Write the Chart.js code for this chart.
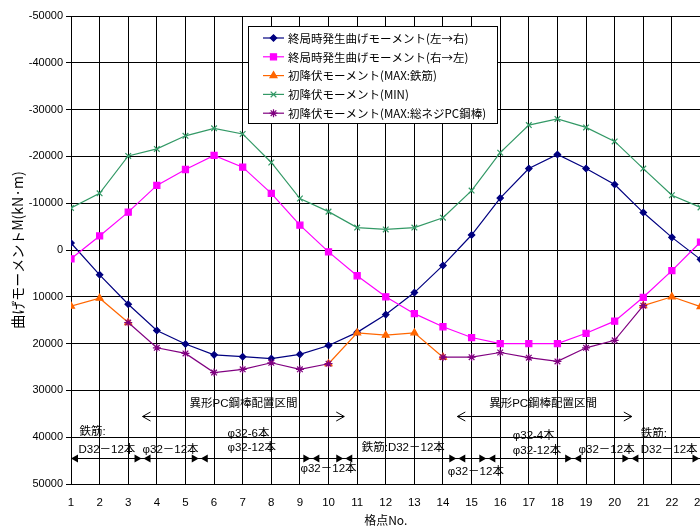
<!DOCTYPE html>
<html>
<head>
<meta charset="utf-8">
<script src="https://cdn.jsdelivr.net/npm/chart.js@4"></script>
<style>
  html, body { margin: 0; background: #fff; }
  #frame { width: 700px; height: 530px; overflow: hidden; position: relative; }
  #momentChart { position: absolute; left: 0; top: 0; }
</style>
</head>
<body>
<!-- canvas a few px wider than the frame: the last x label (23) gets cut at the edge like the original -->
<div id="frame"><canvas id="momentChart" width="706" height="530"></canvas></div>
<script>
const nodes = [1, 2, 3, 4, 5, 6, 7, 8, 9, 10, 11, 12, 13, 14, 15, 16, 17, 18, 19, 20, 21, 22, 23];
const yTicks = [-50000, -40000, -30000, -20000, -10000, 0, 10000, 20000, 30000, 40000, 50000];

const seriesNames = [
  '終局時発生曲げモーメント(左→右)',
  '終局時発生曲げモーメント(右→左)',
  '初降伏モーメント(MAX:鉄筋)',
  '初降伏モーメント(MIN)',
  '初降伏モーメント(MAX:総ネジPC鋼棒)'
];

const ultLeftRight = [-1500, 5300, 11600, 17200, 20100, 22400, 22800, 23200, 22300, 20400, 17600, 13800, 9100, 3300, -3200, -11100, -17400, -20400, -17400, -14000, -8000, -2700, 2000];
const ultRightLeft = [1900, -3000, -8100, -13800, -17200, -20200, -17700, -12100, -5300, 400, 5500, 10000, 13600, 16400, 18700, 20000, 20000, 20000, 17800, 15200, 10100, 4400, -1700];
const yieldMaxRebar = [12000, 10300, 15500, null, null, null, null, null, null, 24300, 17700, 18200, 17700, 22900, null, null, null, null, null, null, 11900, 10000, 12100];
const yieldMin = [-9000, -12100, -20100, -21600, -24400, -26000, -24800, -18700, -11000, -8200, -4800, -4400, -4800, -6900, -12700, -20800, -26700, -28000, -26200, -23200, -17400, -11700, -9100];
const yieldMaxPC = [null, null, 15500, 20900, 22100, 26200, 25500, 24100, 25500, 24300, null, null, null, 22900, 22900, 21900, 23000, 23800, 20900, 19300, 11900, null, null];

// section notes under the curves (x in node units, y in kN·m)
const zoneTitles = [
  { text: '異形PC鋼棒配置区間', x: 7.03, y: 32900 },
  { text: '異形PC鋼棒配置区間', x: 17.5, y: 32900 }
];
const zoneSpans = [[3.5, 10.55], [14.5, 20.6]];
const zoneSpanY = 35500;
const barBreaks = [1, 3.5, 5.5, 9.4, 10.55, 14.5, 15.55, 18.55, 20.55, 23];
const barLineY = 44400;
const barNotes = [
  { text: '鉄筋:', x: 1.3, y: 38900 },
  { text: 'D32－12本', x: 1.26, y: 42700 },
  { text: 'φ32－12本', x: 3.5, y: 42700 },
  { text: 'φ32-6本', x: 6.47, y: 39300 },
  { text: 'φ32-12本', x: 6.47, y: 42300 },
  { text: 'φ32－12本', x: 9.02, y: 46800 },
  { text: '鉄筋:D32－12本', x: 11.16, y: 42300 },
  { text: 'φ32－12本', x: 14.17, y: 47400 },
  { text: 'φ32-4本', x: 16.44, y: 39700 },
  { text: 'φ32-12本', x: 16.44, y: 43000 },
  { text: 'φ32－12本', x: 18.74, y: 42700 },
  { text: '鉄筋:', x: 20.91, y: 39300 },
  { text: 'D32－12本', x: 20.91, y: 42700 }
];

const FONT = "'Liberation Sans', 'Noto Sans CJK JP', sans-serif";
const JP_FONT = "'Noto Sans CJK JP', sans-serif";

function toPoints(values) {
  return nodes.map((n, i) => ({ x: n, y: values[i] }));
}

function makeSet(i, values, color, style, radius) {
  return {
    label: seriesNames[i],
    data: toPoints(values),
    borderColor: color,
    backgroundColor: color,
    borderWidth: 1.2,
    pointStyle: style,
    pointRadius: radius,
    pointBorderColor: color,
    pointBackgroundColor: color,
    pointBorderWidth: 1.2,
    spanGaps: false,
    order: 4 - i
  };
}

const datasets = [
  makeSet(0, ultLeftRight, '#000080', 'rectRot', 3.2),
  makeSet(1, ultRightLeft, '#ff00ff', 'rect', 4.3),
  makeSet(2, yieldMaxRebar, '#ff6600', 'triangle', 4),
  makeSet(3, yieldMin, '#339966', 'crossRot', 4),
  makeSet(4, yieldMaxPC, '#800080', 'star', 4)
];

const notesPlugin = {
  id: 'notes',
  afterDraw(chart) {
    const ctx = chart.ctx;
    const xs = chart.scales.x;
    const ys = chart.scales.y;
    ctx.save();
    ctx.font = '11.5px ' + FONT;
    ctx.fillStyle = '#000';
    ctx.strokeStyle = '#000';
    ctx.lineWidth = 1;
    ctx.textBaseline = 'middle';

    ctx.textAlign = 'center';
    zoneTitles.forEach(t => {
      ctx.fillText(t.text, xs.getPixelForValue(t.x), ys.getPixelForValue(t.y));
    });

    // open-headed span arrows
    const sy = Math.round(ys.getPixelForValue(zoneSpanY)) + 0.5;
    zoneSpans.forEach(([a, b]) => {
      const x1 = xs.getPixelForValue(a);
      const x2 = xs.getPixelForValue(b);
      ctx.beginPath();
      ctx.moveTo(x1, sy); ctx.lineTo(x2, sy);
      ctx.moveTo(x1 + 8, sy - 4.5); ctx.lineTo(x1, sy); ctx.lineTo(x1 + 8, sy + 4.5);
      ctx.moveTo(x2 - 8, sy - 4.5); ctx.lineTo(x2, sy); ctx.lineTo(x2 - 8, sy + 4.5);
      ctx.stroke();
    });

    // bar arrangement line with filled heads
    const by = Math.round(ys.getPixelForValue(barLineY)) + 0.5;
    ctx.beginPath();
    ctx.moveTo(xs.getPixelForValue(barBreaks[0]), by);
    ctx.lineTo(xs.getPixelForValue(barBreaks[barBreaks.length - 1]), by);
    ctx.stroke();
    for (let i = 0; i < barBreaks.length - 1; i++) {
      const x1 = xs.getPixelForValue(barBreaks[i]) + (i === 0 ? 0 : 1);
      const x2 = xs.getPixelForValue(barBreaks[i + 1]) - 1;
      ctx.beginPath();
      ctx.moveTo(x1, by); ctx.lineTo(x1 + 7, by - 4); ctx.lineTo(x1 + 7, by + 4); ctx.closePath();
      ctx.moveTo(x2, by); ctx.lineTo(x2 - 7, by - 4); ctx.lineTo(x2 - 7, by + 4); ctx.closePath();
      ctx.fill();
    }

    ctx.textAlign = 'left';
    barNotes.forEach(t => {
      ctx.fillText(t.text, xs.getPixelForValue(t.x), ys.getPixelForValue(t.y));
    });

    // legend box
    const lx = 248.5, ly = 26.5, lw = 249, lh = 97;
    ctx.fillStyle = '#fff';
    ctx.fillRect(lx, ly, lw, lh);
    ctx.strokeStyle = '#000';
    ctx.lineWidth = 1;
    ctx.strokeRect(lx, ly, lw, lh);
    ctx.font = '11.5px ' + JP_FONT;
    chart.data.datasets.forEach((ds, i) => {
      const y = 38 + i * 18.8;
      ctx.strokeStyle = ds.borderColor;
      ctx.fillStyle = ds.borderColor;
      ctx.lineWidth = 1.2;
      ctx.beginPath();
      ctx.moveTo(263, y); ctx.lineTo(284, y);
      ctx.stroke();
      Chart.helpers.drawPoint(ctx, {
        pointStyle: ds.pointStyle, radius: ds.pointRadius, rotation: 0, borderWidth: 1.2
      }, 273.5, y);
      ctx.fillStyle = '#000';
      ctx.fillText(ds.label, 288, y + 0.5);
    });
    ctx.restore();
  }
};

new Chart(document.getElementById('momentChart'), {
  type: 'line',
  data: { datasets },
  options: {
    responsive: false,
    animation: false,
    devicePixelRatio: 1,
    layout: { padding: { top: 16, right: 0, bottom: 0, left: 0 } },
    plugins: { legend: { display: false }, tooltip: { enabled: false } },
    scales: {
      x: {
        type: 'linear',
        min: nodes[0],
        max: nodes[nodes.length - 1],
        afterBuildTicks(scale) { scale.ticks = nodes.map(v => ({ value: v })); },
        afterFit(scale) { scale.height = 46; scale.paddingLeft = 0; scale.paddingRight = 0; },
        grid: { color: '#000', lineWidth: 1, drawTicks: false },
        border: { color: '#000', width: 1 },
        ticks: { color: '#000', padding: 12, maxRotation: 0, autoSkip: false, font: { family: FONT, size: 11.5 } },
        title: { display: true, text: '格点No.', color: '#000', padding: { top: 0, bottom: 2 }, font: { family: JP_FONT, size: 12 } }
      },
      y: {
        reverse: true,
        min: yTicks[0],
        max: yTicks[yTicks.length - 1],
        afterBuildTicks(scale) { scale.ticks = yTicks.map(v => ({ value: v })); },
        afterFit(scale) { scale.width = 71; },
        grid: { color: '#000', lineWidth: 1, tickLength: 5, tickColor: '#000' },
        border: { color: '#000', width: 1 },
        ticks: { color: '#000', padding: 3, font: { family: FONT, size: 11 }, callback: v => String(v) },
        title: { display: true, text: '曲げモーメントM(kN·m)', color: '#000', padding: { top: 9, bottom: 0 }, font: { family: JP_FONT, size: 14 } }
      }
    }
  },
  plugins: [notesPlugin]
});
</script>
</body>
</html>
